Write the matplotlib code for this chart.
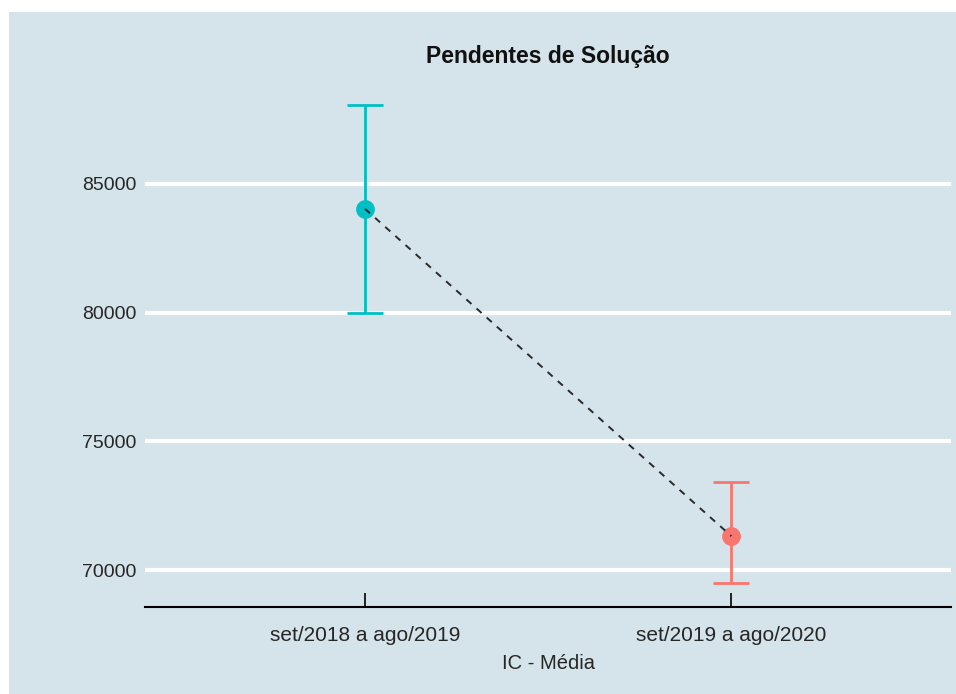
import matplotlib.pyplot as plt
from matplotlib.patches import Rectangle

periodos = ['set/2018 a ago/2019', 'set/2019 a ago/2020']
media = [84030, 71320]
ic_inf = [80000, 69500]
ic_sup = [88060, 73410]
cores = ['#00BFC4', '#F8766D']

bg = '#d5e3ea'
plt.rcParams['font.family'] = ['Liberation Sans', 'DejaVu Sans']

fig = plt.figure(figsize=(9.56, 6.94), dpi=100)
fig.patches.append(Rectangle((0.009, 0), 0.991, 0.983, transform=fig.transFigure,
                             facecolor=bg, edgecolor='none', zorder=-10))
ax = fig.add_axes([0.1517, 0.1254, 0.8433, 0.7579])
ax.set_facecolor(bg)

x = list(range(len(periodos)))
ax.plot(x, media, color='#2a2a2a', lw=1.4, dashes=(3.5, 3.5), zorder=4)
for i in x:
    ax.errorbar(x[i], media[i],
                yerr=[[media[i] - ic_inf[i]], [ic_sup[i] - media[i]]],
                fmt='o', color=cores[i], ms=12.5, elinewidth=2,
                capsize=13, capthick=2, zorder=3)

ax.set_xlim(-0.6, 1.6)
ax.set_ylim(68570, 88990)
ax.set_xticks(x)
ax.set_xticklabels(periodos)
ax.set_yticks([70000, 75000, 80000, 85000])
ax.grid(axis='y', color='white', lw=3)
ax.set_axisbelow(True)
for s in ['top', 'right', 'left']:
    ax.spines[s].set_visible(False)
ax.spines['bottom'].set_linewidth(1.5)
ax.tick_params(axis='y', length=0, labelsize=14, pad=6, labelcolor='#262626')
ax.tick_params(axis='x', direction='in', length=10, width=1.2, labelsize=15, pad=14,
               labelcolor='#262626')
ax.set_xlabel('IC - Média', fontsize=14.5, color='#262626', labelpad=6)
ax.set_title('Pendentes de Solução', fontsize=16.5, fontweight='bold', pad=13,
             color='#111111')

plt.savefig('out.png')
